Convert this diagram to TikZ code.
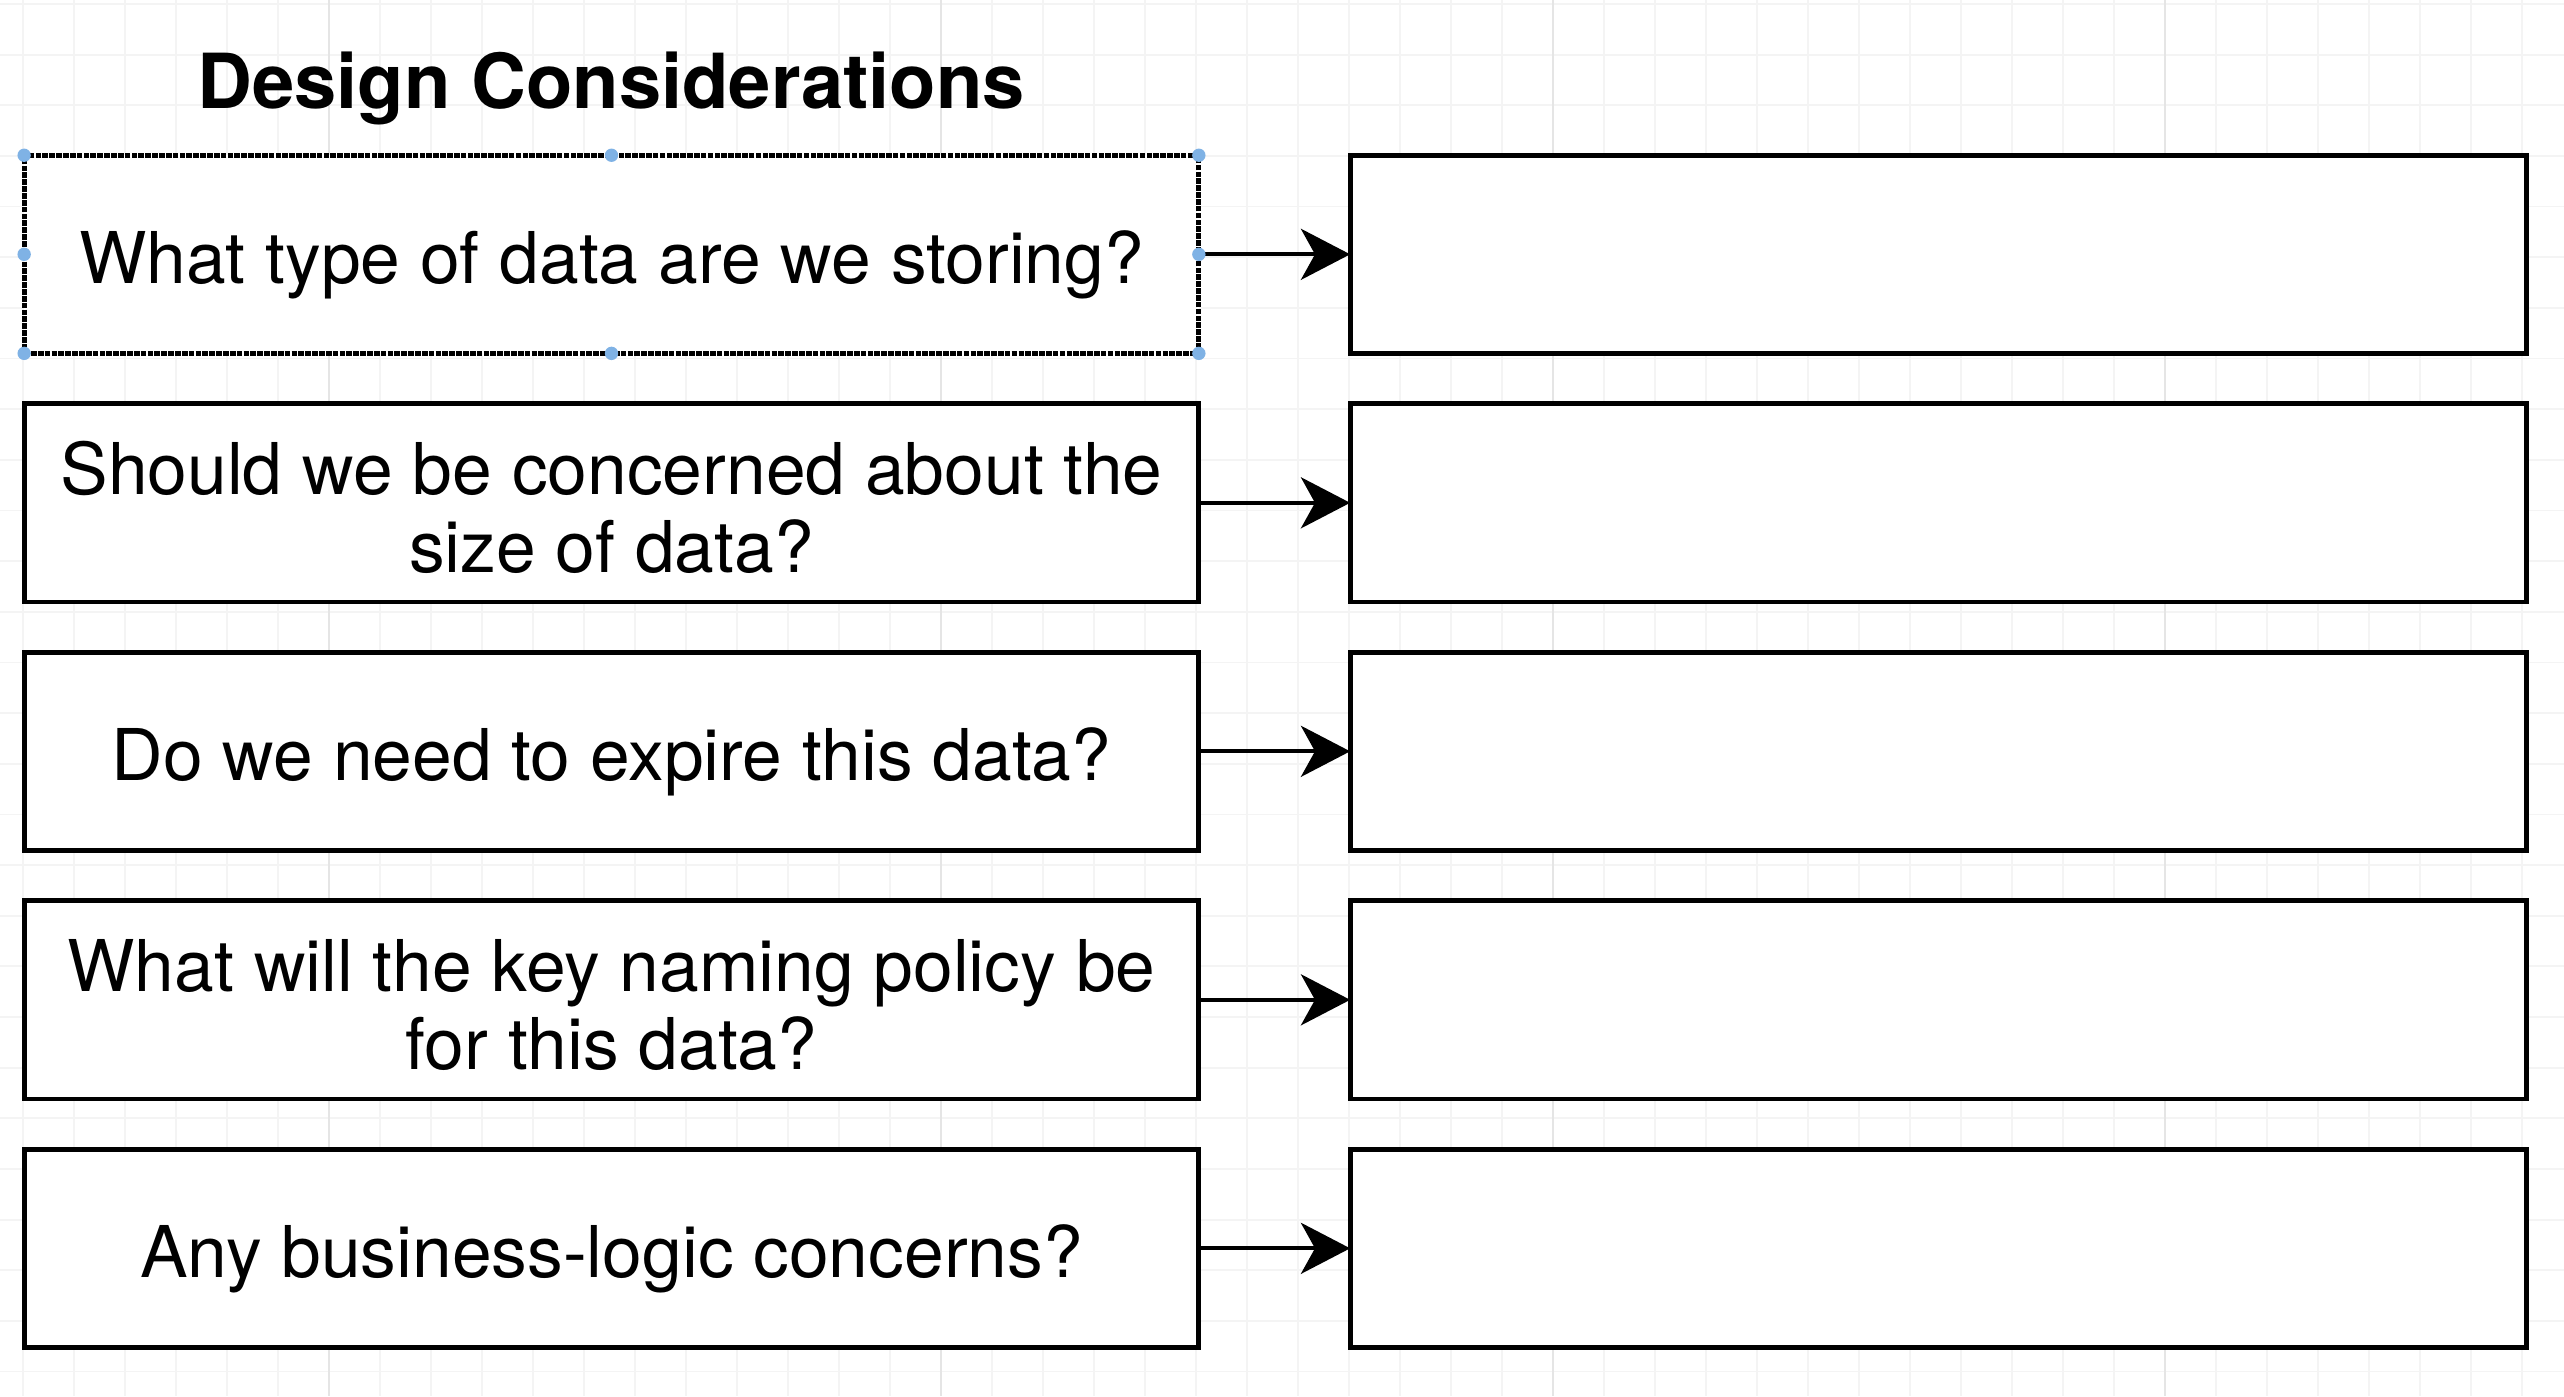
\documentclass[tikz,border=0pt]{standalone}
\usepackage{fontspec}
\setmainfont{TeX Gyre Heros}
\usetikzlibrary{arrows.meta}
\definecolor{gridminor}{HTML}{F4F4F4}
\definecolor{gridmajor}{HTML}{E5E5E5}
\definecolor{handle}{HTML}{7FB2E5}
\begin{document}
\begin{tikzpicture}[x=0.01cm,y=-0.01cm,
  qbox/.style={draw=black, line width=1.35pt, fill=white, rectangle,
    minimum width=11.74cm, minimum height=1.98cm, inner sep=0pt, outer sep=0pt},
  abox/.style={qbox, minimum width=11.755cm},
  selbox/.style={qbox, dash pattern=on 1.6pt off 0.35pt},
  qline/.style={anchor=base, inner sep=0pt, font=\fontsize{20.3}{22.3}\selectfont},
  conn/.style={line width=1.15pt, -{Stealth[length=14pt,width=14.5pt,inset=4pt]}},
  hdl/.style={fill=handle}]
\useasboundingbox (0,0) rectangle (2564,1396);
\fill[white] (0,0) rectangle (2564,1396);
% background grid
\foreach \x in {23,74,...,2564} \draw[gridminor, line width=0.5pt] (\x,0) -- (\x,1396);
\foreach \i in {0,...,27} \draw[gridminor, line width=0.5pt] (0,{4+50.65*\i}) -- (2564,{4+50.65*\i});
\foreach \x in {329,941,1553,2165} \draw[gridmajor, line width=0.6pt] (\x,0) -- (\x,1396);

% title
\node[anchor=base, inner sep=0pt, font=\fontsize{21.6}{26}\selectfont\bfseries] (title) at (611,108) {Design Considerations};

% left question boxes
\node[selbox] (q1) at (611.5,254.3) {};
\node[qbox] (q2) at (611.5,502.8) {};
\node[qbox] (q3) at (611.5,751.3) {};
\node[qbox] (q4) at (611.5,999.8) {};
\node[qbox] (q5) at (611.5,1248.3) {};

% right answer boxes
\node[abox] (a1) at (1938.25,254.3) {};
\node[abox] (a2) at (1938.25,502.8) {};
\node[abox] (a3) at (1938.25,751.3) {};
\node[abox] (a4) at (1938.25,999.8) {};
\node[abox] (a5) at (1938.25,1248.3) {};

% texts
\node[qline] (t1) at (611.5,283) {What type of data are we storing?};
\node[qline] (t2a) at (611.5,494) {Should we be concerned about the};
\node[qline] (t2b) at (611.5,572) {size of data?};
\node[qline] (t3) at (611.5,780) {Do we need to expire this data?};
\node[qline] (t4a) at (611.5,991) {What will the key naming policy be};
\node[qline] (t4b) at (611.5,1069) {for this data?};
\node[qline] (t5) at (611.5,1277) {Any business-logic concerns?};

% connectors
\draw[conn] (q1.east) -- (a1.west);
\draw[conn] (q2.east) -- (a2.west);
\draw[conn] (q3.east) -- (a3.west);
\draw[conn] (q4.east) -- (a4.west);
\draw[conn] (q5.east) -- (a5.west);

% selection handles on first box
\foreach \a in {north west,north,north east,west,east,south west,south,south east}
  \fill[hdl] (q1.\a) circle (1.9pt);
\end{tikzpicture}
\end{document}
